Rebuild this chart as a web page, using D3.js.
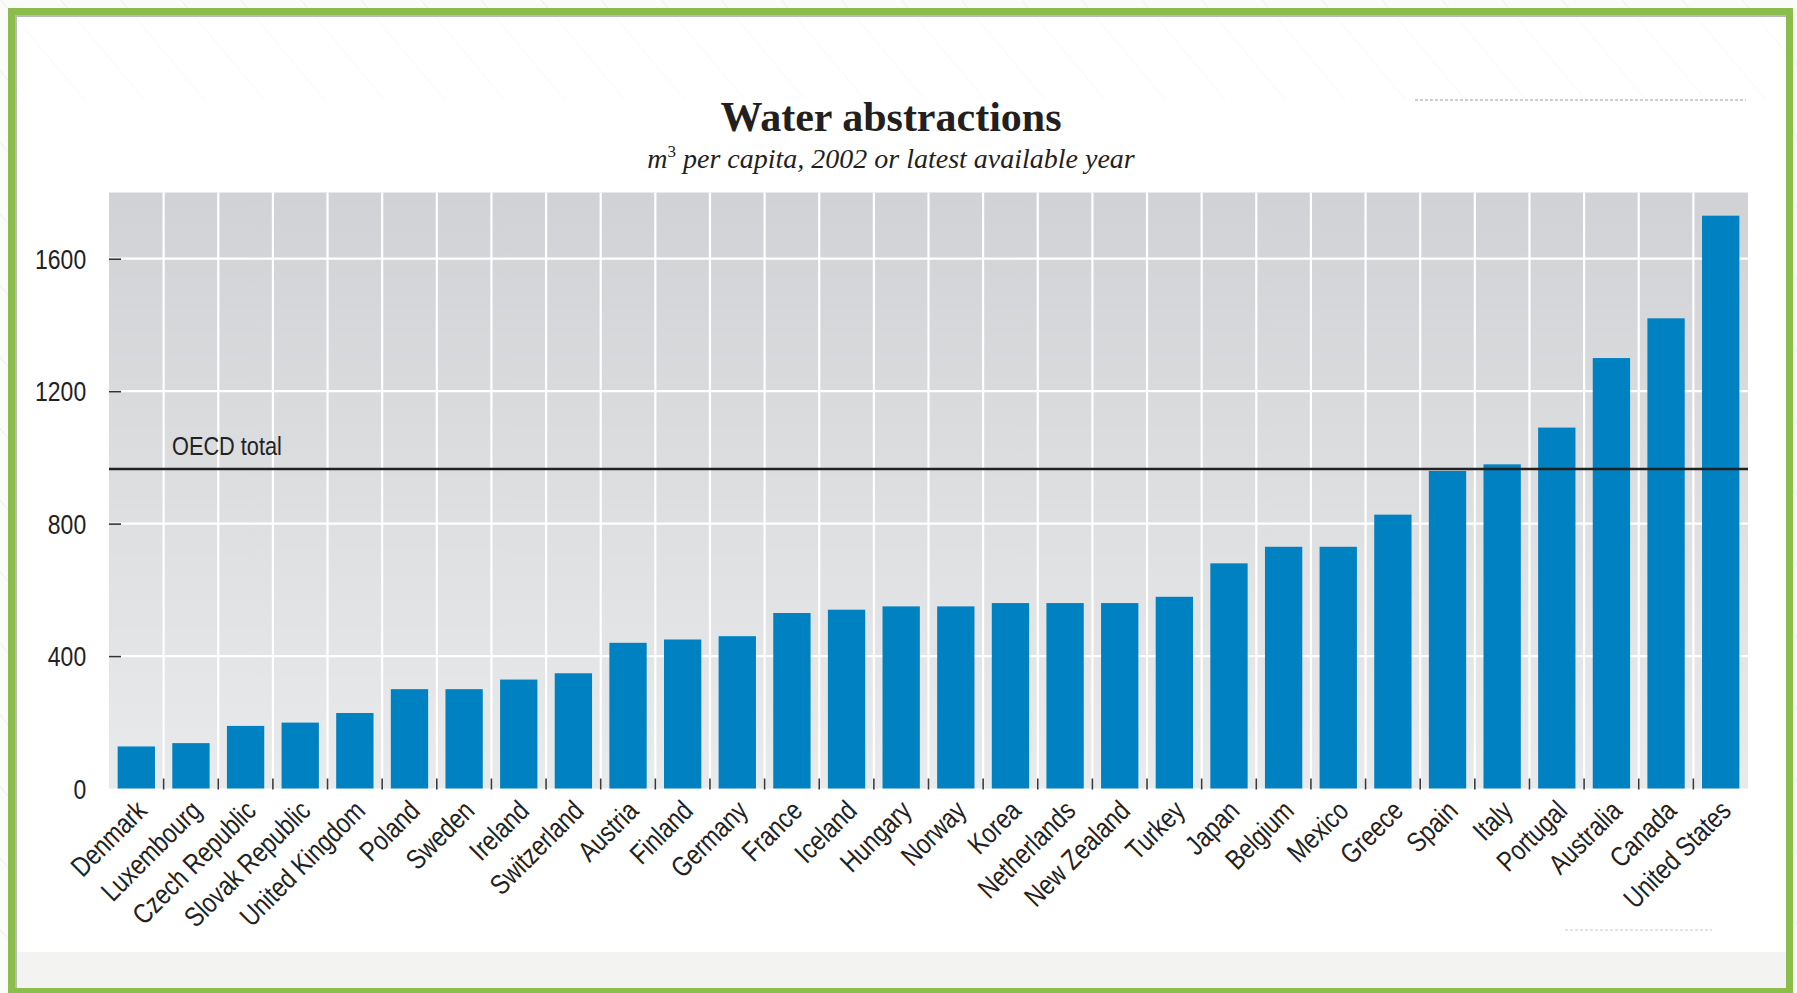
<!DOCTYPE html>
<html>
<head>
<meta charset="utf-8">
<script src="https://cdn.jsdelivr.net/npm/d3@7"></script>
<style>
  body { margin: 0; background: #ffffff; }
  svg { display: block; }
</style>
</head>
<body>
<svg id="chart" width="1797" height="993"></svg>
<script>
// data (m3 per capita)
const countries = ["Denmark", "Luxembourg", "Czech Republic", "Slovak Republic", "United Kingdom",
  "Poland", "Sweden", "Ireland", "Switzerland", "Austria", "Finland", "Germany", "France",
  "Iceland", "Hungary", "Norway", "Korea", "Netherlands", "New Zealand", "Turkey", "Japan",
  "Belgium", "Mexico", "Greece", "Spain", "Italy", "Portugal", "Australia", "Canada", "United States"];
const abstractions = [127, 137, 189, 199, 228, 300, 300, 329, 348, 440, 450, 460, 530,
  540, 550, 550, 560, 560, 560, 579, 680, 730, 730, 827, 959, 979, 1090, 1300, 1420, 1730];
const yTicks = [0, 400, 800, 1200, 1600];
const oecdTotal = 965;

const W = 1797, H = 993;
const plot = { left: 109, right: 1748, top: 192.5, bottom: 788.5 };

// condensed sans if we have it, otherwise squeeze the regular one
function hasFont(name) {
  const ctx = document.createElement('canvas').getContext('2d');
  ctx.font = '40px monospace';
  const a = ctx.measureText('abcdefghijklmWQ0123').width;
  ctx.font = '40px "' + name + '", monospace';
  return ctx.measureText('abcdefghijklmWQ0123').width !== a;
}
const narrow = hasFont('Liberation Sans Narrow');
const sansFamily = narrow ? '"Liberation Sans Narrow", "Liberation Sans", sans-serif' : '"Liberation Sans", Arial, sans-serif';
const squeeze = narrow ? '' : ' scale(0.82,1)';

const svg = d3.select('#chart');
const defs = svg.append('defs');

// plot background gradient
const grad = defs.append('linearGradient')
  .attr('id', 'plotBg').attr('x1', 0).attr('y1', 0).attr('x2', 0).attr('y2', 1);
grad.append('stop').attr('offset', '0%').attr('stop-color', '#d0d2d5');
grad.append('stop').attr('offset', '100%').attr('stop-color', '#e9eaeb');

// faint hatching of the page
const hatch = defs.append('pattern')
  .attr('id', 'hatch').attr('width', 46).attr('height', 46)
  .attr('patternUnits', 'userSpaceOnUse').attr('patternTransform', 'rotate(-40)');
hatch.append('line').attr('x1', 0).attr('y1', 0).attr('x2', 0).attr('y2', 46)
  .attr('stroke', '#e6e8e4').attr('stroke-width', 2);

// page + frame
svg.append('rect').attr('width', W).attr('height', H).attr('fill', '#fbfcfa');
svg.append('rect').attr('width', W).attr('height', H).attr('fill', 'url(#hatch)').attr('opacity', 0.6);
svg.append('rect').attr('x', 15).attr('y', 15).attr('width', 1771).attr('height', 973).attr('fill', '#ffffff');
svg.append('rect').attr('x', 15).attr('y', 15).attr('width', 1771).attr('height', 85)
  .attr('fill', 'url(#hatch)').attr('opacity', 0.25);
svg.append('rect').attr('x', 15).attr('y', 952).attr('width', 1771).attr('height', 36)
  .attr('fill', '#f3f4f1');
svg.append('path')
  .attr('d', 'M16,988 V16 H1786')
  .attr('fill', 'none').attr('stroke', '#b9bbb6').attr('stroke-width', 2);
svg.append('rect').attr('x', 11.5).attr('y', 11.5).attr('width', 1778).attr('height', 980)
  .attr('fill', 'none').attr('stroke', '#8abd4c').attr('stroke-width', 7);

// faint dotted remnants near the top and bottom right
svg.append('line').attr('x1', 1415).attr('x2', 1746).attr('y1', 100).attr('y2', 100)
  .attr('stroke', '#cfcfcf').attr('stroke-width', 2).attr('stroke-dasharray', '3,2');
svg.append('line').attr('x1', 1565).attr('x2', 1712).attr('y1', 930).attr('y2', 930)
  .attr('stroke', '#e4e4e4').attr('stroke-width', 2).attr('stroke-dasharray', '3,2');

// scales
const x = d3.scaleBand().domain(countries).range([plot.left, plot.right]).padding(0);
const y = d3.scaleLinear().domain([0, 1800]).range([plot.bottom, plot.top]);
const bw = x.bandwidth();
const barW = bw * 0.683;

// plot area
svg.append('rect')
  .attr('x', plot.left).attr('y', plot.top)
  .attr('width', plot.right - plot.left).attr('height', plot.bottom - plot.top)
  .attr('fill', 'url(#plotBg)');

// white grid
svg.append('g').selectAll('line').data(countries.slice(1)).enter().append('line')
  .attr('x1', d => x(d)).attr('x2', d => x(d))
  .attr('y1', plot.top).attr('y2', plot.bottom)
  .attr('stroke', '#ffffff').attr('stroke-width', 2.2);
svg.append('g').selectAll('line').data(yTicks.slice(1)).enter().append('line')
  .attr('x1', plot.left).attr('x2', plot.right)
  .attr('y1', d => y(d)).attr('y2', d => y(d))
  .attr('stroke', '#ffffff').attr('stroke-width', 2.2);

// bars
svg.append('g').selectAll('rect').data(countries).enter().append('rect')
  .attr('x', d => x(d) + (bw - barW) / 2)
  .attr('width', barW)
  .attr('y', (d, i) => y(abstractions[i]))
  .attr('height', (d, i) => y(0) - y(abstractions[i]))
  .attr('fill', '#0081c2');

// small tick marks: up from the baseline between bars, right of the y edge
svg.append('g').selectAll('line').data(countries.slice(1)).enter().append('line')
  .attr('x1', d => x(d)).attr('x2', d => x(d))
  .attr('y1', plot.bottom - 10).attr('y2', plot.bottom + 1)
  .attr('stroke', '#3a3a3a').attr('stroke-width', 1.6);

const yRight = svg.append('g')
  .attr('transform', 'translate(' + plot.left + ',0)')
  .call(d3.axisRight(y).tickValues(yTicks.slice(1)).tickSize(12).tickFormat(''));
yRight.select('.domain').remove();
yRight.selectAll('line').attr('stroke', '#333').attr('stroke-width', 1.6);

// y labels
const yLeft = svg.append('g')
  .attr('transform', 'translate(' + plot.left + ',0)')
  .call(d3.axisLeft(y).tickValues(yTicks).tickSize(0).tickPadding(23).tickFormat(d3.format('d')));
yLeft.select('.domain').remove();
yLeft.selectAll('text')
  .attr('font-family', sansFamily).attr('font-size', 28).attr('fill', '#222')
  .attr('dy', '0.35em')
  .attr('transform', squeeze ? 'translate(-4,0)' + squeeze : null);

// OECD total line
svg.append('line')
  .attr('x1', plot.left).attr('x2', plot.right)
  .attr('y1', y(oecdTotal)).attr('y2', y(oecdTotal))
  .attr('stroke', '#222').attr('stroke-width', 2.6);
svg.append('text')
  .attr('transform', 'translate(172,' + (y(oecdTotal) - 14) + ')' + squeeze)
  .attr('font-family', sansFamily).attr('font-size', 26.5).attr('fill', '#222')
  .text('OECD total');

// x labels, rotated
const xAxis = svg.append('g')
  .attr('transform', 'translate(0,' + plot.bottom + ')')
  .call(d3.axisBottom(x).tickSize(0).tickPadding(0));
xAxis.select('.domain').remove();
xAxis.selectAll('text')
  .attr('font-family', sansFamily).attr('font-size', 28).attr('fill', '#222')
  .attr('text-anchor', 'end').attr('dy', null).attr('y', null)
  .attr('transform', 'translate(12,24) rotate(-45)' + squeeze);

// titles
svg.append('text')
  .attr('x', 891).attr('y', 131)
  .attr('text-anchor', 'middle')
  .attr('font-family', '"Liberation Serif", "DejaVu Serif", serif')
  .attr('font-weight', 'bold').attr('font-size', 42).attr('fill', '#231f20')
  .text('Water abstractions');
const sub = svg.append('text')
  .attr('x', 891).attr('y', 168)
  .attr('text-anchor', 'middle')
  .attr('font-family', '"Liberation Serif", "DejaVu Serif", serif')
  .attr('font-style', 'italic').attr('font-size', 28).attr('fill', '#231f20');
sub.append('tspan').text('m');
sub.append('tspan').attr('font-size', 17).attr('dy', -11).attr('font-style', 'normal').text('3');
sub.append('tspan').attr('dy', 11).text(' per capita, 2002 or latest available year');
</script>
</body>
</html>
